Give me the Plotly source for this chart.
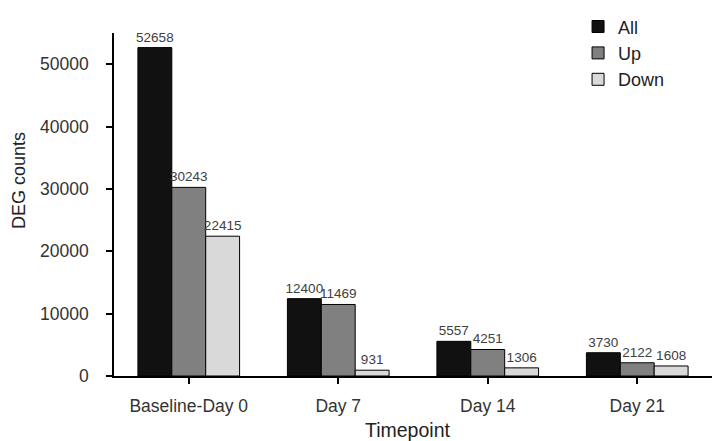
import plotly.graph_objects as go

categories = ["Baseline-Day 0", "Day 7", "Day 14", "Day 21"]
all_vals = [52658, 12400, 5557, 3730]
up_vals = [30243, 11469, 4251, 2122]
down_vals = [22415, 931, 1306, 1608]
series = [("All", all_vals, "#111111"), ("Up", up_vals, "#808080"), ("Down", down_vals, "#d9d9d9")]

fig = go.Figure()
for name, vals, col in series:
    fig.add_trace(go.Bar(
        name=name, x=categories, y=vals, text=[str(v) for v in vals],
        textposition="outside", constraintext="none", cliponaxis=False,
        textfont=dict(family="Liberation Sans", size=13.5, color="#404040"),
        marker=dict(color=col, line=dict(color="#000000", width=1)),
    ))

pw, ph = 712 - 114, 441 - 33 - 65

def px2paper(px, py):
    return (px - 114) / pw, (441 - 65 - py) / ph

ax1, ay1 = px2paper(19, 181)
ax2, ay2 = px2paper(407, 430)

fig.update_layout(
    width=712, height=441,
    margin=dict(l=114, r=0, t=33, b=65),
    paper_bgcolor="white", plot_bgcolor="white",
    barmode="group", bargap=0.32, bargroupgap=0,
    font=dict(family="Liberation Sans", color="#333333"),
    showlegend=True,
    legend=dict(x=0.776, y=1.072, xanchor="left", yanchor="top",
                font=dict(size=18, color="#222222"), tracegroupgap=0,
                bgcolor="rgba(0,0,0,0)", itemwidth=30),
    xaxis=dict(showline=True, linecolor="black", linewidth=1.5,
               ticks="outside", ticklen=6, tickcolor="black", tickwidth=1.5,
               tickfont=dict(size=17.5, color="#333333"), ticklabelstandoff=7),
    yaxis=dict(range=[0, 55000], showline=True, linecolor="black", linewidth=1.5,
               ticks="outside", ticklen=6, tickcolor="black", tickwidth=1.5,
               tickvals=[0, 10000, 20000, 30000, 40000, 50000],
               tickformat="d", showgrid=False, zeroline=False,
               tickfont=dict(size=17.5, color="#333333"), ticklabelstandoff=14),
    annotations=[
        dict(text="DEG counts", x=ax1, y=ay1, xref="paper", yref="paper", showarrow=False,
             textangle=-90, xanchor="center", yanchor="middle",
             font=dict(size=18, color="#222222")),
        dict(text="Timepoint", x=ax2, y=ay2, xref="paper", yref="paper", showarrow=False,
             xanchor="center", yanchor="middle",
             font=dict(size=19.5, color="#222222")),
    ],
)
fig.write_html("out.html")
